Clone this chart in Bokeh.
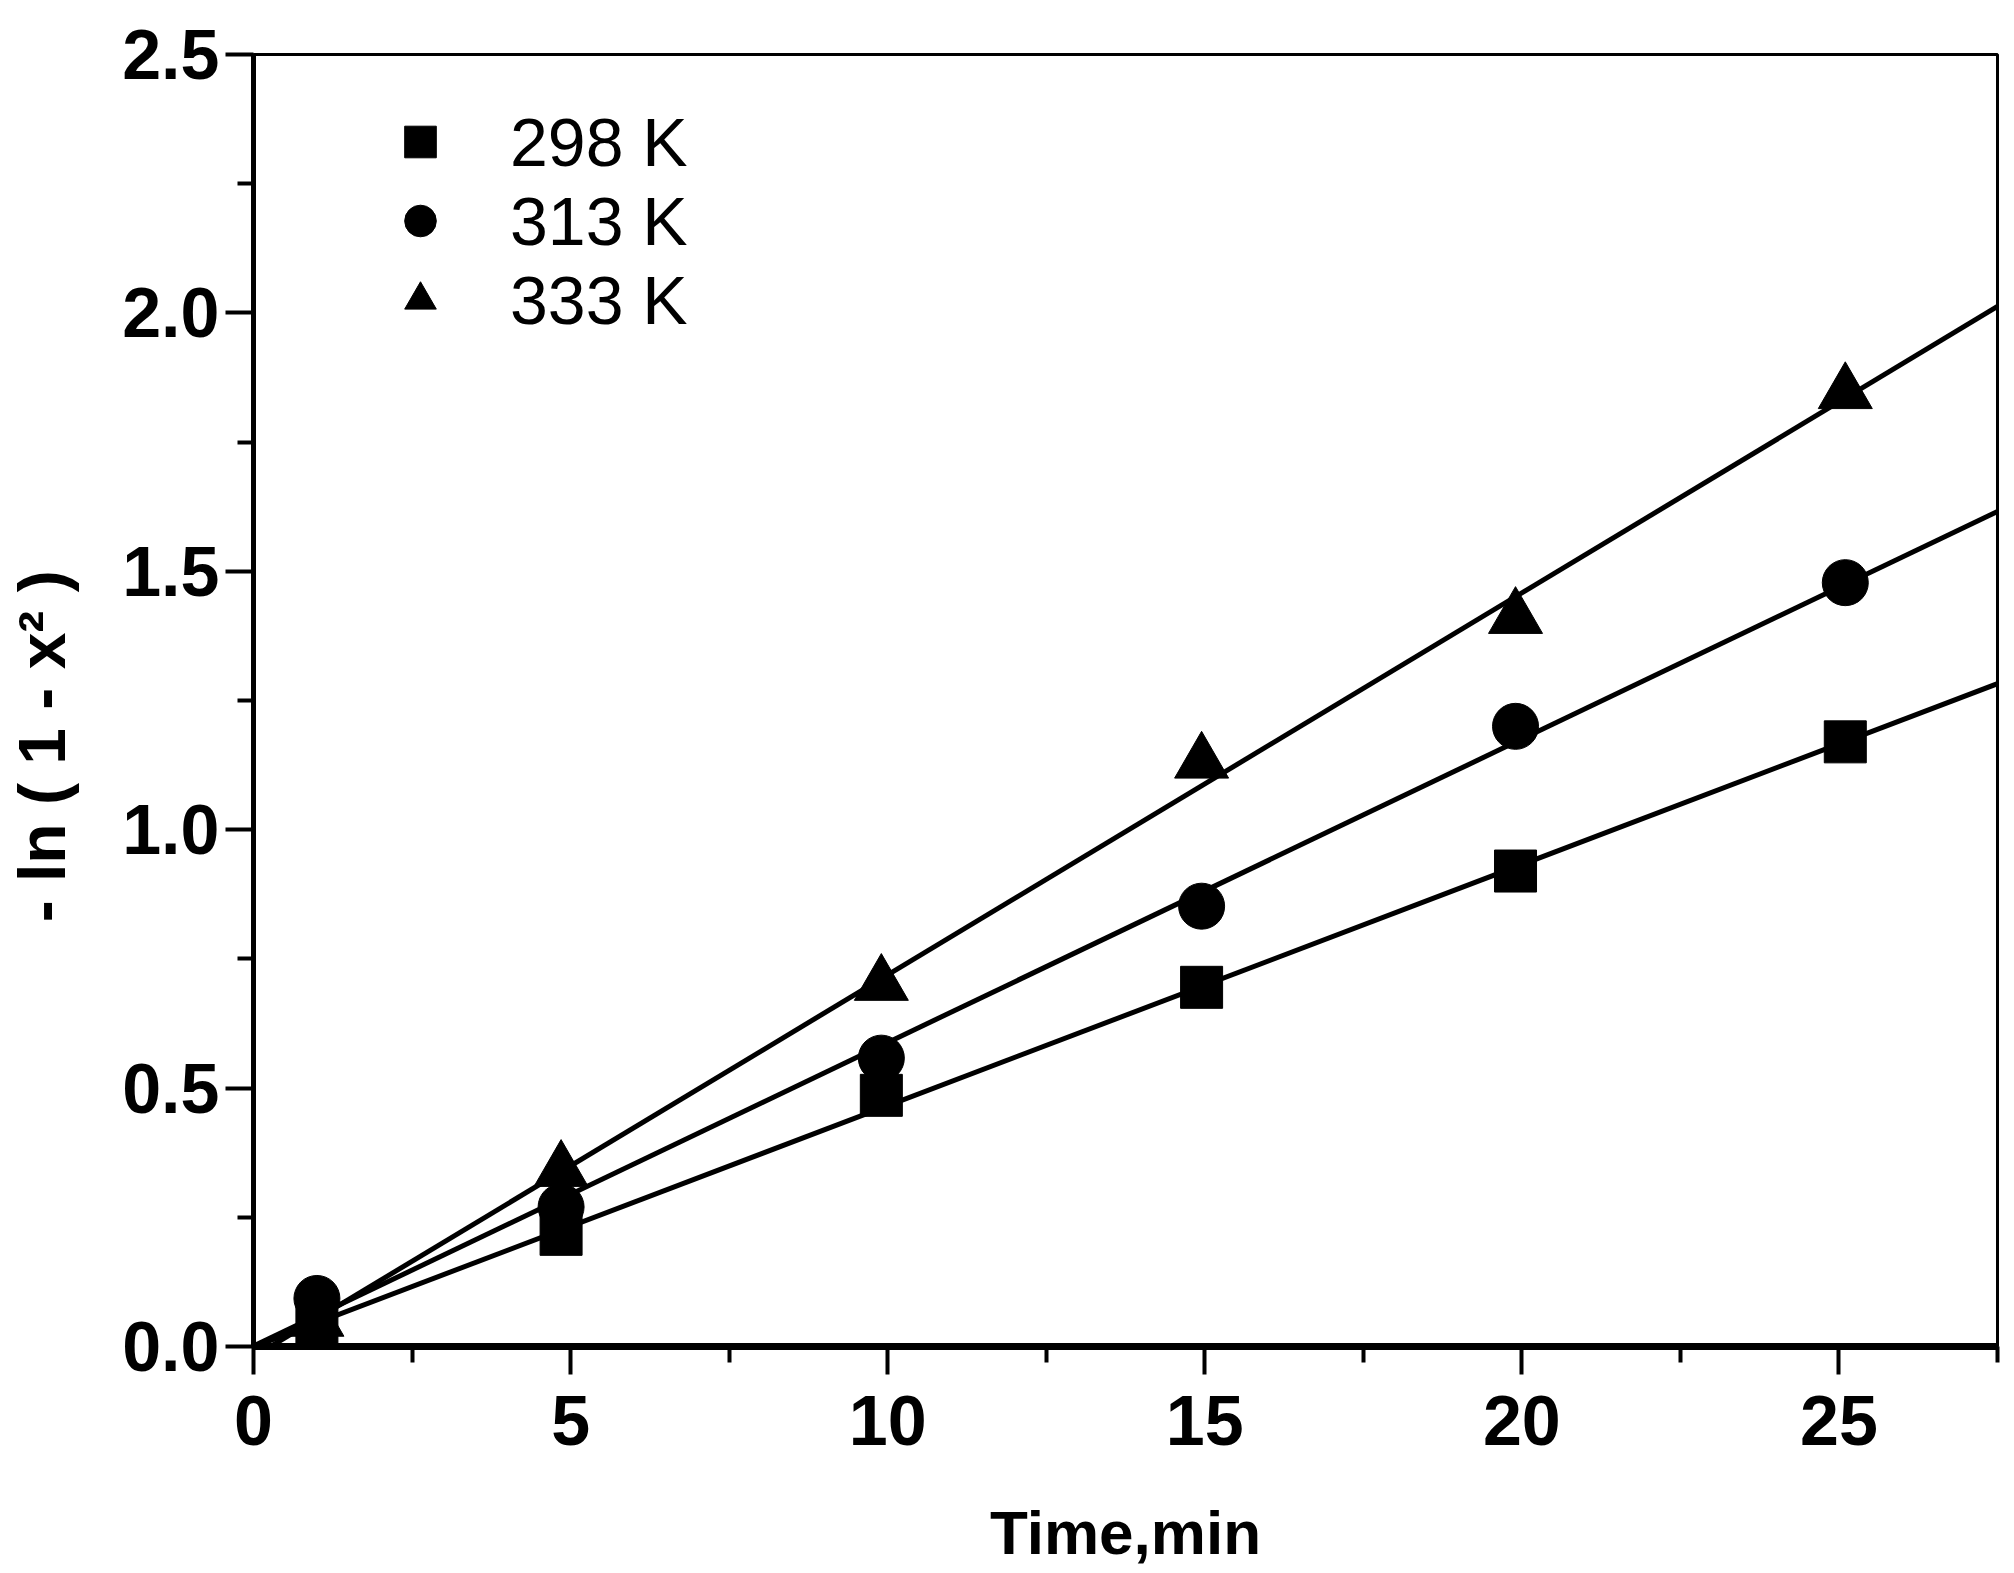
import numpy as np
from bokeh.plotting import figure
from bokeh.models import Range1d, FixedTicker, PrintfTickFormatter, Legend, LegendItem
from bokeh.embed import file_html
from bokeh.resources import INLINE

# ---- data ----
time_min = [1, 4.85, 9.9, 14.95, 19.9, 25.1]
y_298 = [0.04, 0.217, 0.486, 0.695, 0.92, 1.17]
y_313 = [0.093, 0.27, 0.558, 0.852, 1.20, 1.478]
y_333 = [0.05, 0.34, 0.70, 1.13, 1.41, 1.845]
series_labels = ["298 K", "313 K", "333 K"]
x_ticks = [0, 5, 10, 15, 20, 25]
x_minor = [2.5, 7.5, 12.5, 17.5, 22.5, 27.5]
y_ticks = [0.0, 0.5, 1.0, 1.5, 2.0, 2.5]
y_minor = [0.25, 0.75, 1.25, 1.75, 2.25]
x_max = 27.5
y_max = 2.5

FONT = "Liberation Sans"

p = figure(width=2000, height=1570, output_backend="svg", toolbar_location=None,
           x_range=Range1d(0, x_max), y_range=Range1d(0, y_max),
           min_border_left=253, min_border_right=3, min_border_top=54, min_border_bottom=224)
p.grid.visible = False
p.background_fill_color = "white"
p.border_fill_color = "white"
p.outline_line_color = "black"
p.outline_line_width = 3

# fitted lines (least squares of each series)
fit_x = np.array([0.0, x_max])
for ys in (y_298, y_313, y_333):
    k, b = np.polyfit(time_min, ys, 1)
    p.line(fit_x, k * fit_x + b, line_color="black", line_width=5)

r1 = p.scatter(time_min, y_298, marker="square", size=42, fill_color="black", line_color="black")
r2 = p.scatter(time_min, y_313, marker="circle", size=46, fill_color="black", line_color="black")
r3 = p.scatter(time_min, y_333, marker="triangle", size=54, fill_color="black", line_color="black")

legend = Legend(items=[LegendItem(label=series_labels[0], renderers=[r1]),
                       LegendItem(label=series_labels[1], renderers=[r2]),
                       LegendItem(label=series_labels[2], renderers=[r3])],
                location=(117, 1007), orientation="vertical",
                glyph_width=100, glyph_height=79, spacing=0, padding=0, margin=0,
                label_standoff=40, label_text_font=FONT, label_text_font_size="68px",
                label_text_color="black", border_line_color=None, background_fill_alpha=0)
p.add_layout(legend)

xa = p.xaxis[0]
xa.ticker = FixedTicker(ticks=x_ticks, minor_ticks=x_minor)
xa.axis_label = "Time,min"
ya = p.yaxis[0]
ya.ticker = FixedTicker(ticks=y_ticks, minor_ticks=y_minor)
ya.formatter = PrintfTickFormatter(format="%.1f")
ya.axis_label = "- ln ( 1 - x\u00b2 )" + "\u00a0" * 5

for ax in (xa, ya):
    ax.axis_line_color = "black"
    ax.major_tick_line_color = "black"
    ax.minor_tick_line_color = "black"
    ax.major_tick_line_width = 4
    ax.minor_tick_line_width = 4
    ax.major_tick_in = 0
    ax.major_tick_out = 28
    ax.minor_tick_in = 0
    ax.minor_tick_out = 16
    ax.major_label_text_font = FONT
    ax.major_label_text_font_style = "bold"
    ax.major_label_text_font_size = "70px"
    ax.major_label_text_color = "black"
    ax.axis_label_text_font = FONT
    ax.axis_label_text_font_style = "bold"
    ax.axis_label_text_color = "black"

xa.axis_label_text_font_size = "62px"
ya.axis_label_text_font_size = "66px"
xa.axis_line_width = 7
ya.axis_line_width = 5
xa.major_label_standoff = 21
xa.axis_label_standoff = 50
ya.major_label_standoff = 6
ya.axis_label_standoff = 40

open("out.html", "w").write(file_html(p, INLINE))
